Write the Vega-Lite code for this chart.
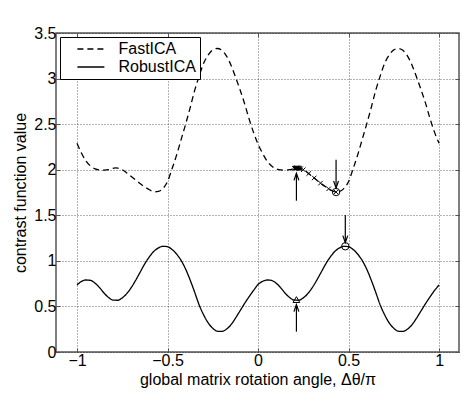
{
  "$schema": "https://vega.github.io/schema/vega-lite/v6.json",
  "width": 403,
  "height": 319,
  "autosize": {"type": "none"},
  "padding": {"left": 56, "top": 33, "right": 4, "bottom": 41},
  "background": "white",
  "config": {
    "font": "Liberation Sans",
    "view": {"stroke": "#555", "strokeWidth": 1.5},
    "axis": {
      "labelFont": "Liberation Sans", "labelFontSize": 16, "labelColor": "#000",
      "titleFont": "Liberation Sans", "titleFontSize": 16, "titleFontWeight": "normal", "titleColor": "#000",
      "domain": false, "tickColor": "#555", "tickSize": -4, "tickWidth": 1,
      "gridColor": "#000", "gridDash": [1, 2], "gridOpacity": 0.6, "gridWidth": 1
    }
  },
  "datasets": {
    "curves": [
      {"series": "FastICA", "x": -1.0, "y": 2.29}, {"series": "FastICA", "x": -0.975, "y": 2.18}, {"series": "FastICA", "x": -0.95, "y": 2.095}, {"series": "FastICA", "x": -0.925, "y": 2.04}, {"series": "FastICA", "x": -0.9, "y": 2.01}, {"series": "FastICA", "x": -0.875, "y": 1.998}, {"series": "FastICA", "x": -0.85, "y": 1.995}, {"series": "FastICA", "x": -0.825, "y": 2.0}, {"series": "FastICA", "x": -0.8, "y": 2.015}, {"series": "FastICA", "x": -0.785, "y": 2.02}, {"series": "FastICA", "x": -0.775, "y": 2.018}, {"series": "FastICA", "x": -0.75, "y": 2.0}, {"series": "FastICA", "x": -0.725, "y": 1.965}, {"series": "FastICA", "x": -0.7, "y": 1.925}, {"series": "FastICA", "x": -0.675, "y": 1.885}, {"series": "FastICA", "x": -0.65, "y": 1.845}, {"series": "FastICA", "x": -0.625, "y": 1.81}, {"series": "FastICA", "x": -0.6, "y": 1.78}, {"series": "FastICA", "x": -0.575, "y": 1.757}, {"series": "FastICA", "x": -0.55, "y": 1.762}, {"series": "FastICA", "x": -0.525, "y": 1.795}, {"series": "FastICA", "x": -0.5, "y": 1.87}, {"series": "FastICA", "x": -0.475, "y": 2.01}, {"series": "FastICA", "x": -0.45, "y": 2.16}, {"series": "FastICA", "x": -0.425, "y": 2.33}, {"series": "FastICA", "x": -0.4, "y": 2.5}, {"series": "FastICA", "x": -0.375, "y": 2.68}, {"series": "FastICA", "x": -0.35, "y": 2.87}, {"series": "FastICA", "x": -0.325, "y": 3.03}, {"series": "FastICA", "x": -0.3, "y": 3.17}, {"series": "FastICA", "x": -0.275, "y": 3.26}, {"series": "FastICA", "x": -0.25, "y": 3.315}, {"series": "FastICA", "x": -0.225, "y": 3.33}, {"series": "FastICA", "x": -0.2, "y": 3.31}, {"series": "FastICA", "x": -0.175, "y": 3.25}, {"series": "FastICA", "x": -0.15, "y": 3.15}, {"series": "FastICA", "x": -0.125, "y": 3.02}, {"series": "FastICA", "x": -0.1, "y": 2.88}, {"series": "FastICA", "x": -0.075, "y": 2.73}, {"series": "FastICA", "x": -0.05, "y": 2.56}, {"series": "FastICA", "x": -0.025, "y": 2.41}, {"series": "FastICA", "x": 0.0, "y": 2.28},
      {"series": "FastICA", "x": 0.025, "y": 2.18}, {"series": "FastICA", "x": 0.05, "y": 2.095}, {"series": "FastICA", "x": 0.075, "y": 2.04}, {"series": "FastICA", "x": 0.1, "y": 2.01}, {"series": "FastICA", "x": 0.125, "y": 1.998}, {"series": "FastICA", "x": 0.15, "y": 1.995}, {"series": "FastICA", "x": 0.175, "y": 2.0}, {"series": "FastICA", "x": 0.2, "y": 2.015}, {"series": "FastICA", "x": 0.215, "y": 2.02}, {"series": "FastICA", "x": 0.225, "y": 2.018}, {"series": "FastICA", "x": 0.25, "y": 2.0}, {"series": "FastICA", "x": 0.275, "y": 1.965}, {"series": "FastICA", "x": 0.3, "y": 1.925}, {"series": "FastICA", "x": 0.325, "y": 1.885}, {"series": "FastICA", "x": 0.35, "y": 1.845}, {"series": "FastICA", "x": 0.375, "y": 1.81}, {"series": "FastICA", "x": 0.4, "y": 1.78}, {"series": "FastICA", "x": 0.425, "y": 1.757}, {"series": "FastICA", "x": 0.45, "y": 1.762}, {"series": "FastICA", "x": 0.475, "y": 1.795}, {"series": "FastICA", "x": 0.5, "y": 1.87}, {"series": "FastICA", "x": 0.525, "y": 2.01}, {"series": "FastICA", "x": 0.55, "y": 2.16}, {"series": "FastICA", "x": 0.575, "y": 2.33}, {"series": "FastICA", "x": 0.6, "y": 2.5}, {"series": "FastICA", "x": 0.625, "y": 2.68}, {"series": "FastICA", "x": 0.65, "y": 2.87}, {"series": "FastICA", "x": 0.675, "y": 3.03}, {"series": "FastICA", "x": 0.7, "y": 3.17}, {"series": "FastICA", "x": 0.725, "y": 3.26}, {"series": "FastICA", "x": 0.75, "y": 3.315}, {"series": "FastICA", "x": 0.775, "y": 3.33}, {"series": "FastICA", "x": 0.8, "y": 3.31}, {"series": "FastICA", "x": 0.825, "y": 3.25}, {"series": "FastICA", "x": 0.85, "y": 3.15}, {"series": "FastICA", "x": 0.875, "y": 3.02}, {"series": "FastICA", "x": 0.9, "y": 2.88}, {"series": "FastICA", "x": 0.925, "y": 2.73}, {"series": "FastICA", "x": 0.95, "y": 2.56}, {"series": "FastICA", "x": 0.975, "y": 2.41}, {"series": "FastICA", "x": 1.0, "y": 2.29},
      {"series": "RobustICA", "x": -1.0, "y": 0.735}, {"series": "RobustICA", "x": -0.975, "y": 0.775}, {"series": "RobustICA", "x": -0.95, "y": 0.79}, {"series": "RobustICA", "x": -0.925, "y": 0.785}, {"series": "RobustICA", "x": -0.9, "y": 0.755}, {"series": "RobustICA", "x": -0.875, "y": 0.705}, {"series": "RobustICA", "x": -0.85, "y": 0.645}, {"series": "RobustICA", "x": -0.825, "y": 0.597}, {"series": "RobustICA", "x": -0.8, "y": 0.569}, {"series": "RobustICA", "x": -0.775, "y": 0.568}, {"series": "RobustICA", "x": -0.75, "y": 0.594}, {"series": "RobustICA", "x": -0.725, "y": 0.641}, {"series": "RobustICA", "x": -0.7, "y": 0.708}, {"series": "RobustICA", "x": -0.675, "y": 0.79}, {"series": "RobustICA", "x": -0.65, "y": 0.88}, {"series": "RobustICA", "x": -0.625, "y": 0.97}, {"series": "RobustICA", "x": -0.6, "y": 1.045}, {"series": "RobustICA", "x": -0.575, "y": 1.105}, {"series": "RobustICA", "x": -0.55, "y": 1.142}, {"series": "RobustICA", "x": -0.525, "y": 1.16}, {"series": "RobustICA", "x": -0.5, "y": 1.155}, {"series": "RobustICA", "x": -0.475, "y": 1.125}, {"series": "RobustICA", "x": -0.45, "y": 1.075}, {"series": "RobustICA", "x": -0.425, "y": 1.005}, {"series": "RobustICA", "x": -0.4, "y": 0.91}, {"series": "RobustICA", "x": -0.375, "y": 0.79}, {"series": "RobustICA", "x": -0.35, "y": 0.655}, {"series": "RobustICA", "x": -0.325, "y": 0.515}, {"series": "RobustICA", "x": -0.3, "y": 0.405}, {"series": "RobustICA", "x": -0.275, "y": 0.318}, {"series": "RobustICA", "x": -0.25, "y": 0.26}, {"series": "RobustICA", "x": -0.225, "y": 0.228}, {"series": "RobustICA", "x": -0.2, "y": 0.226}, {"series": "RobustICA", "x": -0.175, "y": 0.25}, {"series": "RobustICA", "x": -0.15, "y": 0.298}, {"series": "RobustICA", "x": -0.125, "y": 0.37}, {"series": "RobustICA", "x": -0.1, "y": 0.45}, {"series": "RobustICA", "x": -0.075, "y": 0.53}, {"series": "RobustICA", "x": -0.05, "y": 0.605}, {"series": "RobustICA", "x": -0.025, "y": 0.675}, {"series": "RobustICA", "x": 0.0, "y": 0.74},
      {"series": "RobustICA", "x": 0.025, "y": 0.775}, {"series": "RobustICA", "x": 0.05, "y": 0.79}, {"series": "RobustICA", "x": 0.075, "y": 0.785}, {"series": "RobustICA", "x": 0.1, "y": 0.755}, {"series": "RobustICA", "x": 0.125, "y": 0.705}, {"series": "RobustICA", "x": 0.15, "y": 0.645}, {"series": "RobustICA", "x": 0.175, "y": 0.597}, {"series": "RobustICA", "x": 0.2, "y": 0.569}, {"series": "RobustICA", "x": 0.225, "y": 0.568}, {"series": "RobustICA", "x": 0.25, "y": 0.594}, {"series": "RobustICA", "x": 0.275, "y": 0.641}, {"series": "RobustICA", "x": 0.3, "y": 0.708}, {"series": "RobustICA", "x": 0.325, "y": 0.79}, {"series": "RobustICA", "x": 0.35, "y": 0.88}, {"series": "RobustICA", "x": 0.375, "y": 0.97}, {"series": "RobustICA", "x": 0.4, "y": 1.045}, {"series": "RobustICA", "x": 0.425, "y": 1.105}, {"series": "RobustICA", "x": 0.45, "y": 1.142}, {"series": "RobustICA", "x": 0.475, "y": 1.16}, {"series": "RobustICA", "x": 0.5, "y": 1.155}, {"series": "RobustICA", "x": 0.525, "y": 1.125}, {"series": "RobustICA", "x": 0.55, "y": 1.075}, {"series": "RobustICA", "x": 0.575, "y": 1.005}, {"series": "RobustICA", "x": 0.6, "y": 0.91}, {"series": "RobustICA", "x": 0.625, "y": 0.79}, {"series": "RobustICA", "x": 0.65, "y": 0.655}, {"series": "RobustICA", "x": 0.675, "y": 0.515}, {"series": "RobustICA", "x": 0.7, "y": 0.405}, {"series": "RobustICA", "x": 0.725, "y": 0.318}, {"series": "RobustICA", "x": 0.75, "y": 0.26}, {"series": "RobustICA", "x": 0.775, "y": 0.228}, {"series": "RobustICA", "x": 0.8, "y": 0.226}, {"series": "RobustICA", "x": 0.825, "y": 0.25}, {"series": "RobustICA", "x": 0.85, "y": 0.298}, {"series": "RobustICA", "x": 0.875, "y": 0.37}, {"series": "RobustICA", "x": 0.9, "y": 0.45}, {"series": "RobustICA", "x": 0.925, "y": 0.53}, {"series": "RobustICA", "x": 0.95, "y": 0.605}, {"series": "RobustICA", "x": 0.975, "y": 0.675}, {"series": "RobustICA", "x": 1.0, "y": 0.735}
    ],
    "crosses": [
      {"x": 0.2, "y": 2.015}, {"x": 0.205, "y": 2.017}, {"x": 0.21, "y": 2.019}, {"x": 0.213, "y": 2.02}, {"x": 0.216, "y": 2.02}, {"x": 0.22, "y": 2.019}, {"x": 0.225, "y": 2.018}, {"x": 0.23, "y": 2.014}, {"x": 0.235, "y": 2.01},
      {"x": 0.25, "y": 2.0}, {"x": 0.28, "y": 1.958}, {"x": 0.31, "y": 1.91}, {"x": 0.345, "y": 1.853}, {"x": 0.39, "y": 1.79}, {"x": 0.431, "y": 1.755}
    ],
    "circles": [
      {"x": 0.431, "y": 1.755}, {"x": 0.482, "y": 1.16}
    ],
    "triangles": [
      {"x": 0.212, "y": 0.575}
    ],
    "arrows": [
      {"x": 0.212, "tail": 1.66, "tip": 1.96, "dir": "up"},
      {"x": 0.431, "tail": 2.11, "tip": 1.8, "dir": "down"},
      {"x": 0.212, "tail": 0.223, "tip": 0.52, "dir": "up"},
      {"x": 0.482, "tail": 1.504, "tip": 1.2, "dir": "down"}
    ]
  },
  "resolve": {"axis": {"x": "independent", "y": "independent"}},
  "layer": [
    {
      "data": {"name": "curves"},
      "mark": {"type": "line", "interpolate": "monotone", "color": "#000", "strokeWidth": 1.3},
      "encoding": {
        "x": {"field": "x", "type": "quantitative",
              "scale": {"domain": [-1.116, 1.11], "nice": false, "zero": false},
              "axis": {"values": [-1, -0.5, 0, 0.5, 1], "format": "~g", "title": "global matrix rotation angle, Δθ/π", "grid": true, "labelPadding": 4, "titlePadding": 3}},
        "y": {"field": "y", "type": "quantitative",
              "scale": {"domain": [0, 3.5], "nice": false, "zero": false},
              "axis": {"values": [0, 0.5, 1, 1.5, 2, 2.5, 3, 3.5], "format": "~g", "title": "contrast function value", "grid": true, "labelPadding": 4, "titlePadding": 5}},
        "strokeDash": {"field": "series", "type": "nominal",
              "scale": {"domain": ["FastICA", "RobustICA"], "range": [[6, 4], [1, 0]]},
              "legend": {"title": null, "orient": "none", "legendX": 4, "legendY": 4,
                         "symbolType": "M0.8,0L4.8,0", "symbolSize": 182, "symbolStrokeWidth": 1.3, "symbolStrokeColor": "#000",
                         "symbolFillColor": "transparent",
                         "labelFont": "Liberation Sans", "labelFontSize": 16, "labelColor": "#000", "labelOffset": 38.5,
                         "rowPadding": 2,
                         "fillColor": "white", "strokeColor": "#000", "padding": 4}}
      }
    },
    {
      "data": {"name": "crosses"},
      "mark": {"type": "point", "shape": "M-1,-1L1,1M-1,1L1,-1", "size": 20, "stroke": "#000", "strokeWidth": 1, "filled": false, "opacity": 1},
      "encoding": {
        "x": {"field": "x", "type": "quantitative", "axis": null},
        "y": {"field": "y", "type": "quantitative", "axis": null}
      }
    },
    {
      "data": {"name": "circles"},
      "mark": {"type": "point", "shape": "circle", "size": 55, "stroke": "#000", "strokeWidth": 1, "filled": false, "opacity": 1},
      "encoding": {
        "x": {"field": "x", "type": "quantitative", "axis": null},
        "y": {"field": "y", "type": "quantitative", "axis": null}
      }
    },
    {
      "data": {"name": "triangles"},
      "mark": {"type": "point", "shape": "triangle-up", "size": 45, "stroke": "#000", "strokeWidth": 1, "filled": false, "opacity": 1},
      "encoding": {
        "x": {"field": "x", "type": "quantitative", "axis": null},
        "y": {"field": "y", "type": "quantitative", "axis": null}
      }
    },
    {
      "data": {"name": "arrows"},
      "mark": {"type": "rule", "color": "#000", "strokeWidth": 1.2},
      "encoding": {
        "x": {"field": "x", "type": "quantitative",
              "axis": {"orient": "top", "values": [-1, -0.5, 0, 0.5, 1], "labels": false, "title": null, "grid": false}},
        "y": {"field": "tail", "type": "quantitative",
              "axis": {"orient": "right", "values": [0, 0.5, 1, 1.5, 2, 2.5, 3, 3.5], "labels": false, "title": null, "grid": false}},
        "y2": {"field": "tip"}
      }
    },
    {
      "data": {"name": "arrows"},
      "mark": {"type": "point", "size": 196, "stroke": "#000", "strokeWidth": 1.2, "filled": false, "opacity": 1},
      "encoding": {
        "x": {"field": "x", "type": "quantitative", "axis": null},
        "y": {"field": "tip", "type": "quantitative", "axis": null},
        "shape": {"field": "dir", "type": "nominal", "legend": null,
                  "scale": {"domain": ["up", "down"], "range": ["M-0.35,1L0,0L0.35,1", "M-0.35,-1L0,0L0.35,-1"]}}
      }
    }
  ]
}
